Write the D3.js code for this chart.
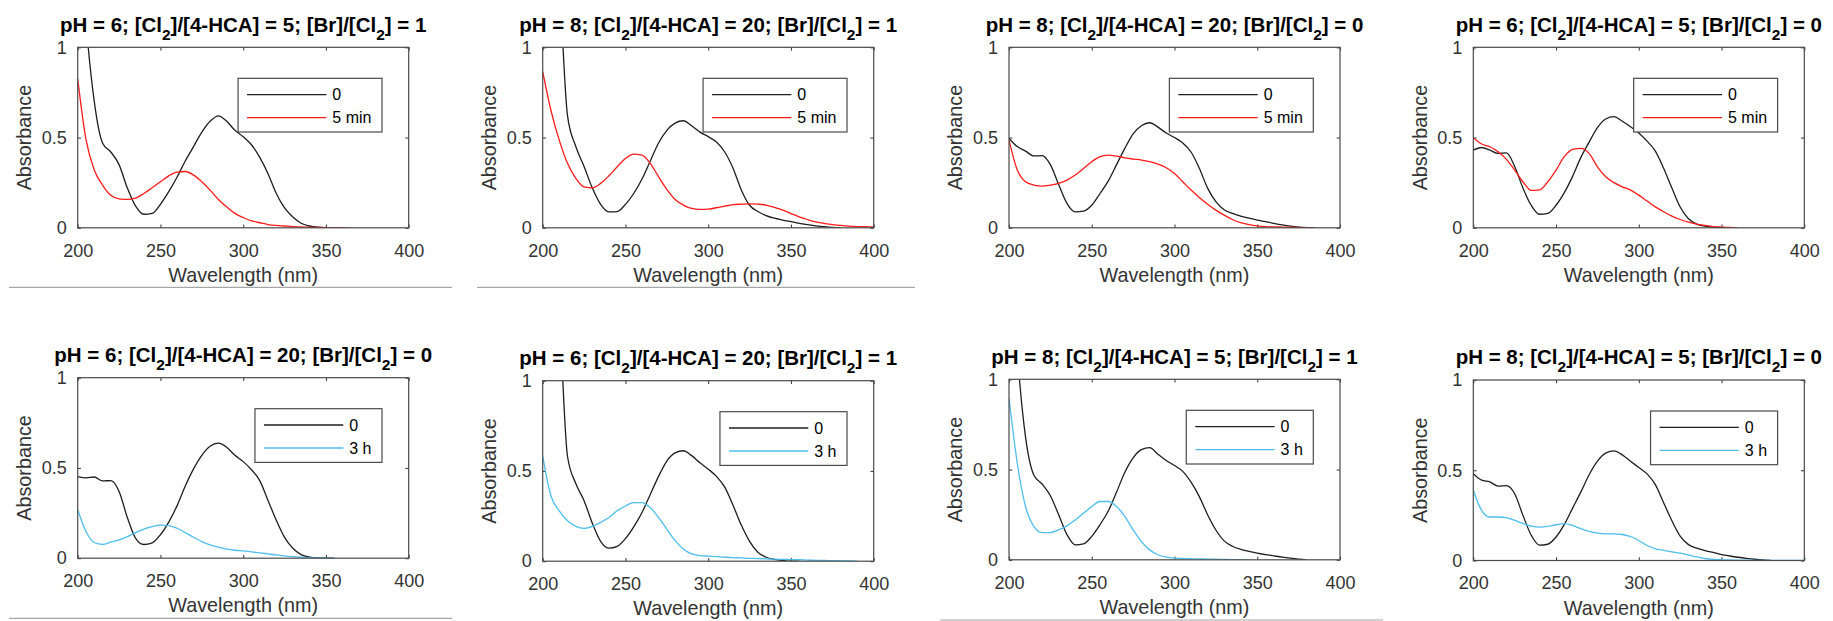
<!DOCTYPE html>
<html>
<head>
<meta charset="utf-8">
<script src="https://d3js.org/d3.v7.min.js"></script>
<style>
  body { margin: 0; background: #fff; }
  svg { display: block; font-family: "Liberation Sans", Arial, sans-serif; }
  .tick text { fill: #333; font-size: 18px; }
  .tick line { stroke: #444; stroke-width: 1.1; }
  .domain { display: none; }
  .axis-label { fill: #333; font-size: 19.8px; }
  .title { fill: #000; font-size: 20.5px; font-weight: bold; }
  .legend-text { fill: #000; font-size: 16px; }
</style>
</head>
<body>
<svg id="chart" width="1833" height="621"></svg>
<script>
// wavelength grid (nm), every series starts at 200
const wavelengths = [200,205,210,215,220,225,230,235,240,245,250,255,260,265,270,275,280,285,290,295,
  300,305,310,315,320,325,330,335,340,345,350,355,360,365,370,375,380,385,390,395,400];

const xTicks = [200, 250, 300, 350, 400];
const yTicks = [0, 0.5, 1];

const titles = [
  "pH = 6; [Cl_2]/[4-HCA] = 5; [Br]/[Cl_2] = 1",
  "pH = 8; [Cl_2]/[4-HCA] = 20; [Br]/[Cl_2] = 1",
  "pH = 8; [Cl_2]/[4-HCA] = 20; [Br]/[Cl_2] = 0",
  "pH = 6; [Cl_2]/[4-HCA] = 5; [Br]/[Cl_2] = 0",
  "pH = 6; [Cl_2]/[4-HCA] = 20; [Br]/[Cl_2] = 0",
  "pH = 6; [Cl_2]/[4-HCA] = 20; [Br]/[Cl_2] = 1",
  "pH = 8; [Cl_2]/[4-HCA] = 5; [Br]/[Cl_2] = 1",
  "pH = 8; [Cl_2]/[4-HCA] = 5; [Br]/[Cl_2] = 0"
];
const laterLabels = ["5 min", "5 min", "5 min", "5 min", "3 h", "3 h", "3 h", "3 h"];
const laterColors = ["#ff1a1a", "#ff1a1a", "#ff1a1a", "#ff1a1a", "#4dbeee", "#4dbeee", "#4dbeee", "#4dbeee"];

// absorbance at time 0
const p1Zero = [1.9,1.15,0.70,0.47,0.42,0.35,0.22,0.12,0.075,0.08,0.13,0.2,0.28,0.37,0.45,0.53,0.59,0.62,0.59,0.54,0.505,0.46,0.39,0.3,0.19,0.11,0.06,0.025,0.01,0.003,0.001,0,0];
const p2Zero = [3,2.6,1.45,0.62,0.45,0.34,0.22,0.13,0.088,0.09,0.13,0.19,0.27,0.37,0.47,0.54,0.58,0.593,0.565,0.53,0.505,0.475,0.42,0.33,0.21,0.125,0.09,0.068,0.053,0.043,0.034,0.025,0.017,0.011,0.006,0.002,0];
const p3Zero = [0.495,0.45,0.425,0.398,0.40,0.35,0.24,0.135,0.088,0.092,0.125,0.19,0.26,0.35,0.44,0.52,0.565,0.582,0.558,0.525,0.5,0.47,0.42,0.33,0.22,0.145,0.1,0.08,0.065,0.053,0.043,0.034,0.024,0.016,0.009,0.004,0.001,0];
const p4Zero = [0.43,0.445,0.43,0.412,0.415,0.34,0.22,0.125,0.075,0.08,0.125,0.195,0.285,0.39,0.475,0.555,0.603,0.616,0.59,0.56,0.525,0.48,0.425,0.33,0.22,0.115,0.05,0.02,0.009,0.004,0.001,0];
const p5Zero = [0.452,0.445,0.45,0.428,0.43,0.37,0.225,0.11,0.076,0.085,0.13,0.2,0.29,0.4,0.495,0.57,0.62,0.637,0.615,0.57,0.535,0.49,0.43,0.32,0.21,0.115,0.055,0.02,0.006,0.001,0,0];
const p6Zero = [3,2.6,1.45,0.58,0.43,0.335,0.21,0.11,0.072,0.082,0.125,0.19,0.27,0.37,0.47,0.555,0.6,0.612,0.585,0.545,0.51,0.47,0.41,0.31,0.2,0.11,0.05,0.022,0.01,0.004,0,0];
const p7Zero = [1.9,1.15,0.68,0.47,0.42,0.355,0.25,0.14,0.083,0.088,0.13,0.195,0.27,0.375,0.485,0.565,0.61,0.622,0.585,0.55,0.522,0.49,0.43,0.35,0.25,0.165,0.105,0.075,0.058,0.047,0.037,0.029,0.022,0.015,0.009,0.004,0];
const p8Zero = [0.481,0.445,0.435,0.412,0.415,0.37,0.25,0.14,0.085,0.09,0.13,0.2,0.29,0.38,0.475,0.55,0.595,0.607,0.585,0.55,0.515,0.48,0.42,0.32,0.22,0.135,0.088,0.068,0.055,0.045,0.033,0.025,0.018,0.012,0.007,0.003,0];

// absorbance after 5 min (top row) / 3 h (bottom row)
const p1Later = [0.824,0.49,0.32,0.237,0.18,0.16,0.157,0.165,0.19,0.222,0.255,0.288,0.309,0.312,0.292,0.255,0.209,0.157,0.116,0.08,0.057,0.039,0.028,0.018,0.013,0.01,0.007,0.005,0.003,0.002,0.001,0.0005,0,0];
const p2Later = [0.865,0.65,0.486,0.357,0.274,0.227,0.222,0.246,0.288,0.338,0.384,0.408,0.403,0.357,0.283,0.213,0.157,0.126,0.107,0.102,0.104,0.111,0.12,0.128,0.131,0.133,0.131,0.126,0.113,0.098,0.079,0.061,0.046,0.033,0.024,0.018,0.013,0.009,0.007,0.006,0.005];
const p3Later = [0.486,0.32,0.255,0.237,0.231,0.237,0.246,0.264,0.292,0.329,0.366,0.394,0.403,0.397,0.388,0.381,0.375,0.366,0.353,0.333,0.301,0.255,0.209,0.168,0.131,0.098,0.07,0.046,0.028,0.018,0.011,0.007,0.005,0.004,0.003,0.002,0.001,0];
const p4Later = [0.499,0.464,0.449,0.421,0.379,0.32,0.255,0.207,0.21,0.255,0.32,0.394,0.434,0.44,0.412,0.338,0.283,0.25,0.227,0.209,0.181,0.148,0.116,0.089,0.065,0.046,0.031,0.02,0.013,0.007,0.004,0.002,0];
const p5Later = [0.268,0.148,0.087,0.077,0.089,0.101,0.12,0.142,0.161,0.175,0.183,0.181,0.166,0.142,0.116,0.092,0.074,0.061,0.05,0.044,0.041,0.035,0.03,0.024,0.018,0.013,0.009,0.006,0.002,0.001,0,0];
const p6Later = [0.582,0.361,0.279,0.224,0.193,0.182,0.193,0.215,0.242,0.279,0.306,0.325,0.325,0.297,0.242,0.178,0.114,0.068,0.04,0.031,0.028,0.025,0.022,0.02,0.018,0.016,0.015,0.013,0.011,0.01,0.009,0.008,0.006,0.005,0.004,0.003,0.002,0.001,0];
const p7Later = [0.895,0.535,0.295,0.185,0.151,0.151,0.166,0.188,0.221,0.258,0.295,0.323,0.323,0.295,0.24,0.166,0.101,0.055,0.028,0.015,0.009,0.007,0.006,0.005,0.004,0.003,0.002,0.001,0.001,0];
const p8Later = [0.389,0.278,0.241,0.241,0.237,0.222,0.204,0.191,0.185,0.189,0.198,0.204,0.194,0.176,0.161,0.152,0.148,0.148,0.144,0.133,0.111,0.083,0.065,0.056,0.048,0.041,0.031,0.02,0.011,0.006,0.004,0.003,0.002,0.0015,0.001,0.0005,0,0,0,0,0];

const zeroSeries = [p1Zero, p2Zero, p3Zero, p4Zero, p5Zero, p6Zero, p7Zero, p8Zero];
const laterSeries = [p1Later, p2Later, p3Later, p4Later, p5Later, p6Later, p7Later, p8Later];

// layout of the axes boxes
const panelLeft = [77.7, 542.7, 1009, 1473.3, 77.7, 542.7, 1009, 1473.3];
const panelTop  = [47.3, 47.3, 47.3, 47.3, 377.7, 380.7, 379.3, 380];
const panelW = 331, panelH = 180.5;

// thin grey rules left over from the source layout
const rules = [
  { x1: 9, x2: 452, y: 287.3 }, { x1: 477, x2: 915, y: 287.3 },
  { x1: 9, x2: 452, y: 618.3 }, { x1: 940, x2: 1383, y: 620 }
];

const svg = d3.select('#chart');

svg.selectAll('line.rule').data(rules).enter().append('line')
  .attr('class', 'rule')
  .attr('x1', d => d.x1).attr('x2', d => d.x2)
  .attr('y1', d => d.y).attr('y2', d => d.y)
  .attr('stroke', '#a6a6a6').attr('stroke-width', 1.2);

const xScale = d3.scaleLinear().domain([200, 400]).range([0, panelW]);
const yScale = d3.scaleLinear().domain([0, 1]).range([panelH, 0]);

const line = d3.line()
  .x((d, i) => xScale(wavelengths[i]))
  .y(d => yScale(d))
  .curve(d3.curveMonotoneX);

titles.forEach((title, p) => {
  const g = svg.append('g')
    .attr('transform', `translate(${panelLeft[p]},${panelTop[p]})`);

  g.append('clipPath').attr('id', 'clip' + p)
    .append('rect').attr('width', panelW).attr('height', panelH);

  // axes with inward ticks on all four sides
  g.append('g').attr('transform', `translate(0,${panelH})`)
    .call(d3.axisBottom(xScale).tickValues(xTicks).tickSizeInner(-3.3).tickSizeOuter(0).tickPadding(16));
  g.append('g')
    .call(d3.axisLeft(yScale).tickValues(yTicks).tickFormat(d3.format('')).tickSizeInner(-3.3).tickSizeOuter(0).tickPadding(11));
  g.append('g')
    .call(d3.axisTop(xScale).tickValues(xTicks).tickFormat('').tickSizeInner(-3.3).tickSizeOuter(0));
  g.append('g').attr('transform', `translate(${panelW},0)`)
    .call(d3.axisRight(yScale).tickValues(yTicks).tickFormat('').tickSizeInner(-3.3).tickSizeOuter(0));

  const curves = g.append('g').attr('clip-path', `url(#clip${p})`);
  curves.append('path').datum(zeroSeries[p])
    .attr('d', line).attr('fill', 'none')
    .attr('stroke', '#1e1e1e').attr('stroke-width', 1.3);
  curves.append('path').datum(laterSeries[p])
    .attr('d', line).attr('fill', 'none')
    .attr('stroke', laterColors[p]).attr('stroke-width', 1.3);

  g.append('rect')
    .attr('width', panelW).attr('height', panelH)
    .attr('fill', 'none').attr('stroke', '#4a4a4a').attr('stroke-width', 1.2);

  // axis labels
  g.append('text').attr('class', 'axis-label')
    .attr('x', panelW / 2).attr('y', panelH + 54)
    .attr('text-anchor', 'middle')
    .text('Wavelength (nm)');
  g.append('text').attr('class', 'axis-label')
    .attr('transform', `translate(-46.7,${panelH / 2}) rotate(-90)`)
    .attr('text-anchor', 'middle')
    .text('Absorbance');

  // title with subscripts written as _2
  const t = g.append('text').attr('class', 'title')
    .attr('x', panelW / 2).attr('y', -15.6)
    .attr('text-anchor', 'middle');
  const parts = title.split(/_(\d)/);
  parts.forEach((s, i) => {
    const ts = t.append('tspan').text(s);
    if (i % 2 === 1) ts.attr('dy', 8).style('font-size', '15.5px');
    else if (i > 0) ts.attr('dy', -8);
  });

  // legend
  const leg = g.append('g');
  const labels = ['0', laterLabels[p]];
  const colors = ['#1e1e1e', laterColors[p]];
  const texts = leg.selectAll('text').data(labels).enter().append('text')
    .attr('class', 'legend-text')
    .attr('x', 94.3)
    .attr('y', (d, i) => 16.3 + i * 23 + 5.6)
    .text(d => d);
  const maxW = d3.max(texts.nodes(), n => n.getComputedTextLength());
  const legW = 94.3 + maxW + 10.5;
  leg.attr('transform', `translate(${panelW - 26.7 - legW},31)`);
  leg.insert('rect', 'text')
    .attr('width', legW).attr('height', 53.7)
    .attr('fill', '#fff').attr('stroke', '#4a4a4a').attr('stroke-width', 1.2);
  leg.selectAll('line').data(colors).enter().append('line')
    .attr('x1', 9).attr('x2', 88.3)
    .attr('y1', (d, i) => 16.3 + i * 23).attr('y2', (d, i) => 16.3 + i * 23)
    .attr('stroke', d => d).attr('stroke-width', 1.3);
});
</script>
</body>
</html>
